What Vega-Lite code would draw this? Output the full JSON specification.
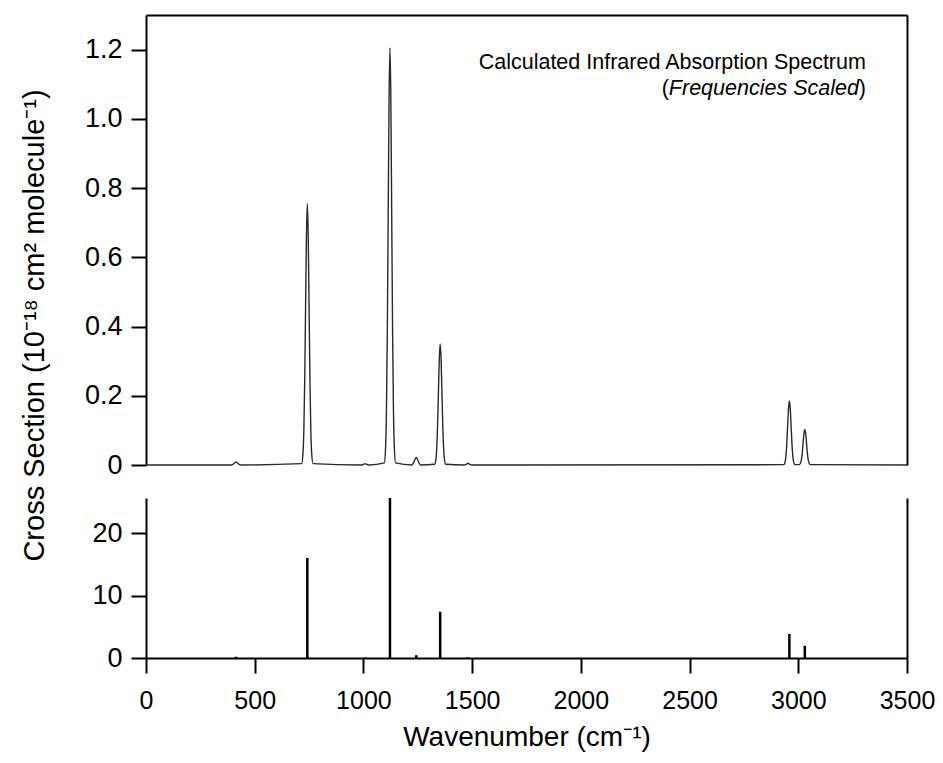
{
  "$schema": "https://vega.github.io/schema/vega-lite/v6.json",
  "background": "white",
  "padding": {"left": 20, "top": 15, "right": 5, "bottom": 5},
  "bounds": "flush",
  "spacing": 33,
  "datasets": {
    "spectrum": [
      {"wn": 0, "cs": 0}, {"wn": 394, "cs": 0}, {"wn": 402, "cs": 0.003}, {"wn": 408, "cs": 0.006}, {"wn": 414, "cs": 0.009}, {"wn": 420, "cs": 0.006}, {"wn": 426, "cs": 0.003}, {"wn": 434, "cs": 0},
      {"wn": 716, "cs": 0.004}, {"wn": 722, "cs": 0.033}, {"wn": 726, "cs": 0.102}, {"wn": 730, "cs": 0.245}, {"wn": 734, "cs": 0.458}, {"wn": 738, "cs": 0.666}, {"wn": 742, "cs": 0.755}, {"wn": 746, "cs": 0.666}, {"wn": 750, "cs": 0.458}, {"wn": 754, "cs": 0.245}, {"wn": 758, "cs": 0.102}, {"wn": 762, "cs": 0.033}, {"wn": 768, "cs": 0.004},
      {"wn": 990, "cs": 0}, {"wn": 1000, "cs": 0.002}, {"wn": 1008, "cs": 0.004}, {"wn": 1016, "cs": 0.002}, {"wn": 1026, "cs": 0},
      {"wn": 1096, "cs": 0.006}, {"wn": 1102, "cs": 0.053}, {"wn": 1106, "cs": 0.163}, {"wn": 1110, "cs": 0.392}, {"wn": 1114, "cs": 0.731}, {"wn": 1118, "cs": 1.063}, {"wn": 1122, "cs": 1.205}, {"wn": 1126, "cs": 1.063}, {"wn": 1130, "cs": 0.731}, {"wn": 1134, "cs": 0.392}, {"wn": 1138, "cs": 0.163}, {"wn": 1142, "cs": 0.053}, {"wn": 1148, "cs": 0.006},
      {"wn": 1223, "cs": 0}, {"wn": 1231, "cs": 0.007}, {"wn": 1237, "cs": 0.016}, {"wn": 1243, "cs": 0.022}, {"wn": 1249, "cs": 0.016}, {"wn": 1255, "cs": 0.007}, {"wn": 1263, "cs": 0},
      {"wn": 1327, "cs": 0.002}, {"wn": 1333, "cs": 0.015}, {"wn": 1337, "cs": 0.047}, {"wn": 1341, "cs": 0.114}, {"wn": 1345, "cs": 0.212}, {"wn": 1349, "cs": 0.309}, {"wn": 1353, "cs": 0.35}, {"wn": 1357, "cs": 0.309}, {"wn": 1361, "cs": 0.212}, {"wn": 1365, "cs": 0.114}, {"wn": 1369, "cs": 0.047}, {"wn": 1373, "cs": 0.015}, {"wn": 1379, "cs": 0.002},
      {"wn": 1463, "cs": 0}, {"wn": 1473, "cs": 0.002}, {"wn": 1481, "cs": 0.005}, {"wn": 1489, "cs": 0.002}, {"wn": 1499, "cs": 0},
      {"wn": 2933, "cs": 0.001}, {"wn": 2939, "cs": 0.008}, {"wn": 2943, "cs": 0.025}, {"wn": 2947, "cs": 0.06}, {"wn": 2951, "cs": 0.112}, {"wn": 2955, "cs": 0.163}, {"wn": 2959, "cs": 0.185}, {"wn": 2963, "cs": 0.163}, {"wn": 2967, "cs": 0.112}, {"wn": 2971, "cs": 0.06}, {"wn": 2975, "cs": 0.025}, {"wn": 2979, "cs": 0.008}, {"wn": 2985, "cs": 0.001},
      {"wn": 3004, "cs": 0.001}, {"wn": 3010, "cs": 0.005}, {"wn": 3014, "cs": 0.014}, {"wn": 3018, "cs": 0.033}, {"wn": 3022, "cs": 0.063}, {"wn": 3026, "cs": 0.091}, {"wn": 3030, "cs": 0.103}, {"wn": 3034, "cs": 0.091}, {"wn": 3038, "cs": 0.063}, {"wn": 3042, "cs": 0.033}, {"wn": 3046, "cs": 0.014}, {"wn": 3050, "cs": 0.005}, {"wn": 3056, "cs": 0.001},
      {"wn": 3500, "cs": 0}
    ],
    "sticks": [
      {"wn": 414, "cs": 0.2}, {"wn": 742, "cs": 16.0}, {"wn": 1008, "cs": 0.1}, {"wn": 1122, "cs": 25.6}, {"wn": 1243, "cs": 0.45}, {"wn": 1353, "cs": 7.4}, {"wn": 1481, "cs": 0.1}, {"wn": 2959, "cs": 3.85}, {"wn": 3030, "cs": 1.95}
    ],
    "notes": [
      {"line1": "Calculated Infrared Absorption Spectrum", "open": "(", "italic": "Frequencies Scaled", "close": ")"}
    ]
  },
  "vconcat": [
    {
      "width": 761,
      "height": 450,
      "resolve": {"axis": {"x": "independent", "y": "independent"}},
      "layer": [
        {
          "data": {"name": "spectrum"},
          "mark": {"type": "line", "color": "#2a2a2a", "strokeWidth": 1.4, "interpolate": "monotone"},
          "encoding": {
            "x": {"field": "wn", "type": "quantitative", "scale": {"domain": [0, 3500], "nice": false, "zero": false},
                  "axis": {"orient": "top", "labels": false, "ticks": false, "title": null, "domain": true}},
            "y": {"field": "cs", "type": "quantitative", "scale": {"domain": [0, 1.3], "nice": false},
                  "axis": {"orient": "left", "values": [0, 0.2, 0.4, 0.6, 0.8, 1.0, 1.2],
                           "labelExpr": "datum.value == 0 ? '0' : format(datum.value, '.1f')",
                           "labelFontSize": 27, "titleFontSize": 29,
                           "title": "Cross Section (10⁻¹⁸ cm² molecule⁻¹)", "titleY": 310, "titlePadding": 35}}
          }
        },
        {
          "data": {"name": "spectrum"},
          "mark": {"type": "line", "strokeOpacity": 0},
          "encoding": {
            "x": {"field": "wn", "type": "quantitative", "axis": null},
            "y": {"field": "cs", "type": "quantitative", "axis": {"orient": "right", "labels": false, "ticks": false, "title": null}}
          }
        },
        {
          "data": {"name": "notes"},
          "mark": {"type": "text", "align": "right", "baseline": "alphabetic", "font": "Liberation Sans", "fontSize": 21.5, "color": "black"},
          "encoding": {
            "x": {"datum": 3311, "type": "quantitative", "axis": null},
            "y": {"datum": 1.145, "type": "quantitative", "axis": null},
            "text": {"field": "line1"}
          }
        },
        {
          "data": {"name": "notes"},
          "mark": {"type": "text", "align": "right", "baseline": "alphabetic", "font": "Liberation Sans", "fontSize": 21.5, "color": "black"},
          "encoding": {
            "x": {"datum": 3311, "type": "quantitative", "axis": null},
            "y": {"datum": 1.07, "type": "quantitative", "axis": null},
            "text": {"field": "close"}
          }
        },
        {
          "data": {"name": "notes"},
          "mark": {"type": "text", "align": "right", "baseline": "alphabetic", "font": "Liberation Sans", "fontSize": 21.5, "fontStyle": "italic", "color": "black", "dx": -7},
          "encoding": {
            "x": {"datum": 3311, "type": "quantitative", "axis": null},
            "y": {"datum": 1.07, "type": "quantitative", "axis": null},
            "text": {"field": "italic"}
          }
        },
        {
          "data": {"name": "notes"},
          "mark": {"type": "text", "align": "right", "baseline": "alphabetic", "font": "Liberation Sans", "fontSize": 21.5, "color": "black", "dx": -197},
          "encoding": {
            "x": {"datum": 3311, "type": "quantitative", "axis": null},
            "y": {"datum": 1.07, "type": "quantitative", "axis": null},
            "text": {"field": "open"}
          }
        }
      ]
    },
    {
      "width": 761,
      "height": 160,
      "resolve": {"axis": {"x": "independent", "y": "independent"}},
      "layer": [
        {
          "data": {"name": "sticks"},
          "mark": {"type": "rule", "color": "black", "strokeWidth": 2.5},
          "encoding": {
            "x": {"field": "wn", "type": "quantitative", "scale": {"domain": [0, 3500], "nice": false, "zero": false},
                  "axis": {"orient": "bottom", "values": [0, 500, 1000, 1500, 2000, 2500, 3000, 3500], "format": "d", "labelFlush": false, "labelOverlap": false,
                           "labelFontSize": 25, "labelPadding": 15, "title": "Wavenumber (cm⁻¹)", "titlePadding": 10}},
            "y": {"field": "cs", "type": "quantitative", "scale": {"domain": [0, 25.6], "nice": false},
                  "axis": {"orient": "left", "values": [0, 10, 20], "labelFontSize": 27, "title": null}},
            "y2": {"datum": 0}
          }
        },
        {
          "data": {"name": "sticks"},
          "mark": {"type": "rule", "strokeOpacity": 0},
          "encoding": {
            "x": {"field": "wn", "type": "quantitative", "axis": null},
            "y": {"field": "cs", "type": "quantitative", "axis": {"orient": "right", "labels": false, "ticks": false, "title": null}}
          }
        }
      ]
    }
  ],
  "config": {
    "view": {"stroke": null},
    "axis": {
      "labelFont": "Liberation Sans", "titleFont": "Liberation Sans",
      "labelFontSize": 26, "titleFontSize": 28, "titleFontWeight": "normal",
      "labelColor": "black", "titleColor": "black",
      "domainColor": "black", "tickColor": "black",
      "domainWidth": 2, "tickWidth": 2, "tickSize": 15,
      "grid": false, "labelPadding": 9
    }
  }
}
